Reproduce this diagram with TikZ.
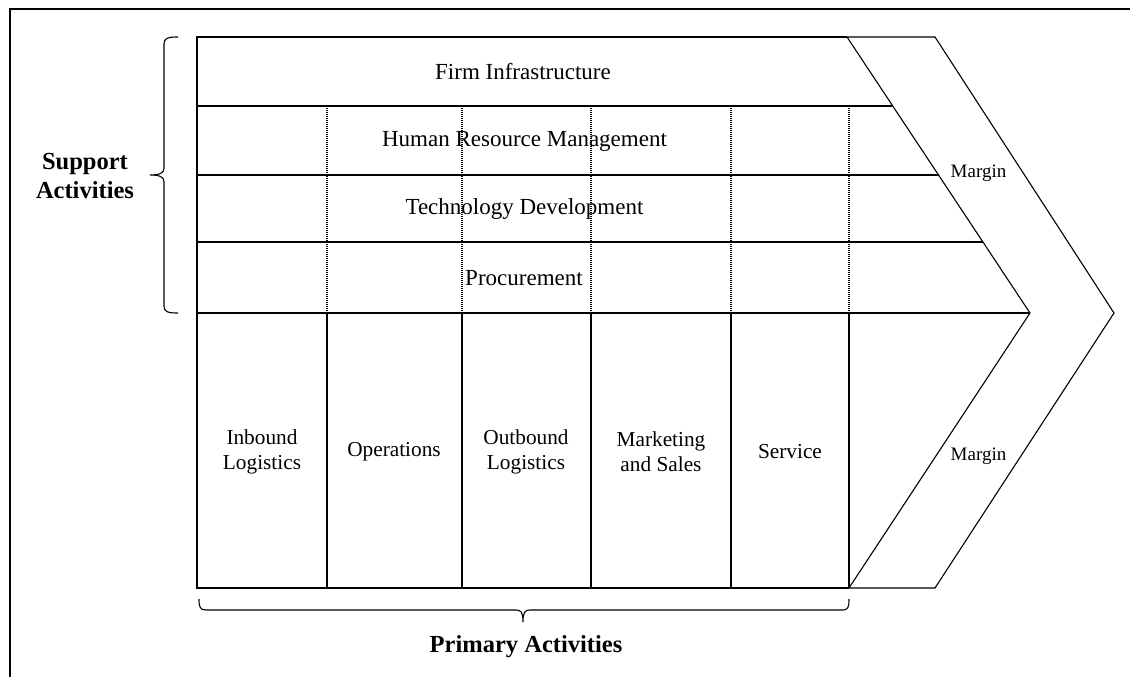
\documentclass[tikz,border=0pt]{standalone}
\usepackage{fontspec}
\setmainfont{Liberation Serif}
\begin{document}
\begin{tikzpicture}[x=1pt,y=-1pt,
  frame/.style={line width=1.6pt},
  boxline/.style={line width=1.4pt},
  thinline/.style={line width=1.1pt},
  dotline/.style={line width=1.2pt, dash pattern=on 1pt off 1pt},
  bracestyle/.style={line width=1.1pt},
  rowlabel/.style={font=\fontsize{23}{27}\selectfont, inner sep=0pt},
  collabel/.style={font=\fontsize{21.3}{25}\selectfont, align=center, inner sep=0pt},
  marginlabel/.style={font=\fontsize{19}{22}\selectfont, inner sep=0pt},
  boldlabel/.style={font=\fontsize{24.5}{29}\selectfont\bfseries, align=center, inner sep=0pt}
]
\useasboundingbox (0,0) rectangle (1130,677);
% outer frame (left and top)
\draw[frame] (10,677) -- (10,9) -- (1130,9);

% chevron (margin)
\coordinate (c1) at (847,37);
\coordinate (c2) at (935,37);
\coordinate (c3) at (1114,313);
\coordinate (c4) at (935,588);
\coordinate (c5) at (849,588);
\coordinate (c6) at (1030,313);
\draw[thinline] (c1) -- (c2) -- (c3) -- (c4) -- (c5) -- (c6) -- cycle;

% main box
\draw[boxline] (c1) -- (197,37) -- (197,588) -- (c5);
\draw[boxline] (197,106) -- (892,106);
\draw[boxline] (197,175) -- (938.5,175);
\draw[boxline] (197,242) -- (983,242);
\draw[boxline] (197,313) -- (c6);

% dotted verticals in support rows
\foreach \x in {327,462,591,731,849}{
  \draw[dotline] (\x,106) -- (\x,313);
}
% solid verticals in primary rows
\foreach \x in {327,462,591,731}{
  \draw[boxline] (\x,313) -- (\x,588);
}
\draw[boxline] (849,313) -- (c5);

% support labels
\node[rowlabel] (fi) at (523,72) {Firm Infrastructure};
\node[rowlabel] (hrm) at (524.5,141) {Human Resource Management};
\node[rowlabel] (td) at (524.5,209.5) {Technology Development};
\node[rowlabel] (proc) at (524,278) {Procurement};

% primary labels
\node[collabel] (inb) at (262,452) {Inbound\\Logistics};
\node[collabel] (ops) at (394,452) {Operations};
\node[collabel] (outb) at (526,452) {Outbound\\Logistics};
\node[collabel] (mkt) at (661,452) {Marketing\\and Sales};
\node[collabel] (srv) at (790,452) {Service};

% margin labels
\node[marginlabel] (m1) at (978.5,173) {Margin};
\node[marginlabel] (m2) at (978.5,456) {Margin};

% left brace
\coordinate (lbtop) at (178,37);
\coordinate (lbtip) at (150,175);
\coordinate (lbbot) at (178,313);
\draw[bracestyle] (lbtop) .. controls (168,37) and (164,38) .. (164,44)
  -- (164,168) .. controls (164,173) and (160,175) .. (lbtip)
  .. controls (160,175) and (164,177) .. (164,182)
  -- (164,306) .. controls (164,312) and (168,313) .. (lbbot);
% bottom brace
\coordinate (bbl) at (199,599);
\coordinate (bbtip) at (523,622);
\coordinate (bbr) at (849,599);
\draw[bracestyle] (bbl) .. controls (199,607) and (200,610) .. (206,610)
  -- (516,610) .. controls (521,610) and (523,612) .. (bbtip)
  .. controls (523,612) and (525,610) .. (530,610)
  -- (843,610) .. controls (848,610) and (849,607) .. (bbr);

\node[boldlabel] (sa) at (85,176) {Support\\Activities};
\node[boldlabel] (pa) at (526,647) {Primary Activities};
\end{tikzpicture}
\end{document}
